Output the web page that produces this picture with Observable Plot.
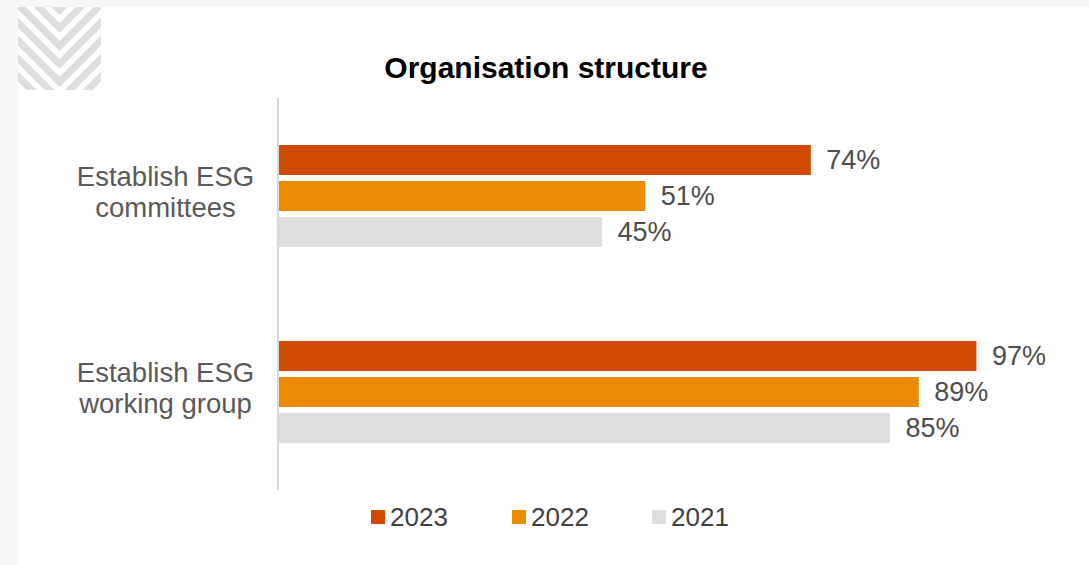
<!DOCTYPE html>
<html>
<head>
<meta charset="utf-8">
<script src="https://cdn.jsdelivr.net/npm/d3@7"></script>
<script src="https://cdn.jsdelivr.net/npm/@observablehq/plot@0.6"></script>
<style>
  html, body { margin: 0; padding: 0; }
  body { width: 1089px; height: 565px; background: #f7f7f7; position: relative; overflow: hidden;
         font-family: "Liberation Sans", Arial, sans-serif; }
  #panel { position: absolute; left: 18px; top: 7px; width: 1071px; height: 558px; background: #ffffff; }
  #deco { position: absolute; left: 18px; top: 7px; }
  #title { position: absolute; left: 0; width: 1092px; top: 53px; text-align: center;
           font-size: 30px; font-weight: bold; color: #000; line-height: 30px; }
  #chart { position: absolute; left: 0; top: 0; }
  .leg { position: absolute; top: 502px; height: 30px; display: flex; align-items: center;
         font-size: 26px; color: #404040; }
  .leg span.sw { display: inline-block; width: 14px; height: 14px; margin-right: 5px; }
</style>
</head>
<body>
<div id="panel"></div>
<svg id="deco" width="83" height="83" viewBox="0 0 83 83">
  <defs><clipPath id="c"><rect x="0" y="0" width="83" height="83"/></clipPath></defs>
  <g clip-path="url(#c)" fill="none" stroke="#dedede" stroke-width="7">
    <polyline points="-2,-40.5 41.5,3 85,-40.5"/>
    <polyline points="-2,-22.5 41.5,21 85,-22.5"/>
    <polyline points="-2,-4.5 41.5,39 85,-4.5"/>
    <polyline points="-2,13.5 41.5,57 85,13.5"/>
    <polyline points="-2,31.5 41.5,75 85,31.5"/>
    <polyline points="-2,49.5 41.5,93 85,49.5"/>
    <polyline points="-2,67.5 41.5,111 85,67.5"/>
  </g>
</svg>
<div id="title">Organisation structure</div>
<div id="chart"></div>
<div id="legend"></div>
<script>
const categories = ["Establish ESG committees", "Establish ESG working group"];
const categoryLabels = ["Establish ESG\ncommittees", "Establish ESG\nworking group"];
const years = ["2023", "2022", "2021"];
const values2023 = [74, 97];
const values2022 = [51, 89];
const values2021 = [45, 85];
const colors = ["#d04a02", "#eb8c00", "#dedede"];

const seriesValues = [values2023, values2022, values2021];
const rows = [];
categories.forEach((c, i) => {
  years.forEach((y, j) => rows.push({category: c, year: y, value: seriesValues[j][i]}));
});

const chart = Plot.plot({
  width: 1089,
  height: 565,
  marginLeft: 278,
  marginRight: 91,
  marginTop: 97,
  marginBottom: 75,
  style: {background: "transparent", fontFamily: "'Liberation Sans', Arial, sans-serif"},
  x: {domain: [0, 100], axis: null},
  y: {domain: years, axis: null, paddingInner: 0.162, paddingOuter: 1.236},
  fy: {domain: categories, axis: null, padding: 0},
  color: {domain: years, range: colors},
  marks: [
    Plot.barX(rows, {fy: "category", y: "year", x: "value", fill: "year"}),
    Plot.text(rows, {fy: "category", y: "year", x: "value", text: d => d.value + "%",
      textAnchor: "start", dx: 15, fontSize: 27, fill: "#4d4d4d"}),
    Plot.text(categories, {fy: d => d, text: (d, i) => categoryLabels[i], frameAnchor: "left",
      textAnchor: "middle", dx: -113, dy: -5, fontSize: 27.5, lineHeight: 1.13, fill: "#595959"}),
    Plot.ruleX([0], {stroke: "#d9d9d9", strokeWidth: 2, dx: -0.5})
  ]
});
document.getElementById("chart").appendChild(chart);

const legendX = [371, 512, 652];
const legend = document.getElementById("legend");
years.forEach((y, i) => {
  const d = document.createElement("div");
  d.className = "leg";
  d.style.left = legendX[i] + "px";
  d.innerHTML = `<span class="sw" style="background:${colors[i]}"></span>${y}`;
  legend.appendChild(d);
});
</script>
</body>
</html>
